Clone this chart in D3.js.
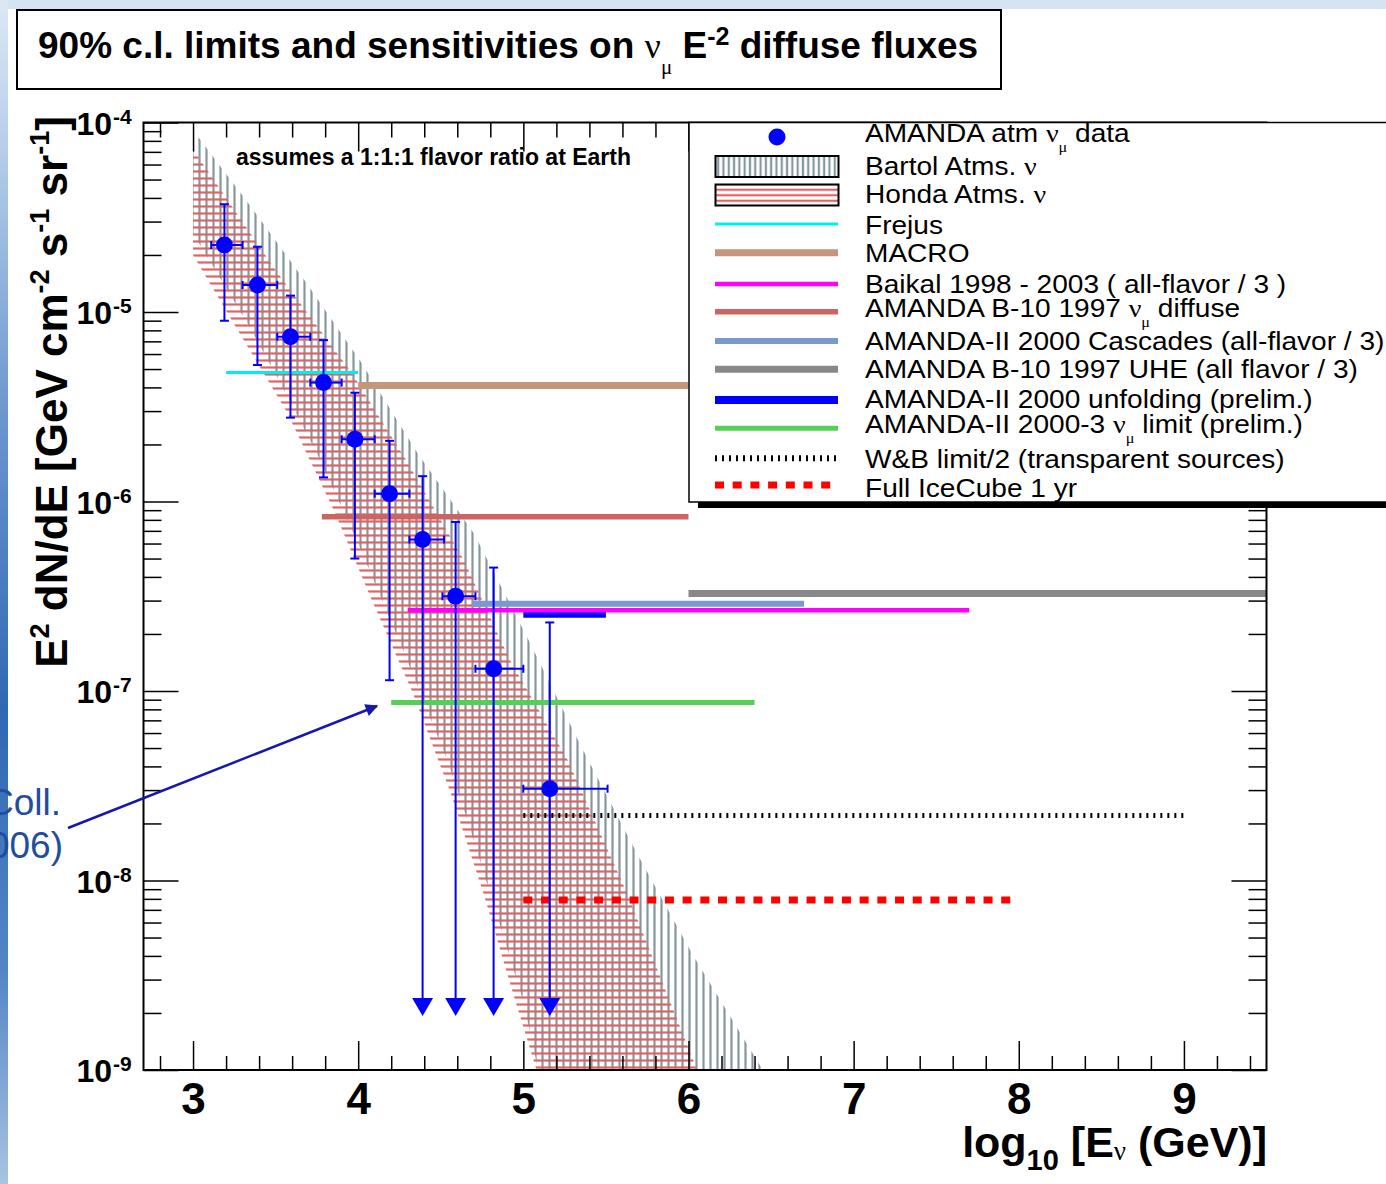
<!DOCTYPE html>
<html>
<head>
<meta charset="utf-8">
<script src="https://cdn.jsdelivr.net/npm/d3@7"></script>
<style>
  html, body { margin: 0; padding: 0; background: #fff; }
  svg { display: block; font-family: "Liberation Sans", Arial, sans-serif; }
  text { white-space: pre; }
</style>
</head>
<body>
<svg id="chart" width="1386" height="1184"></svg>
<script>
// ---- data ----
// AMANDA atmospheric nu_mu unfolded points (log10 E, E^2 dN/dE)
const pointE      = [3.19, 3.39, 3.59, 3.79, 3.98, 4.19, 4.39, 4.59, 4.82, 5.16];
const pointElo    = [3.11, 3.30, 3.51, 3.71, 3.90, 4.10, 4.31, 4.51, 4.71, 5.00];
const pointEhi    = [3.30, 3.51, 3.71, 3.90, 4.10, 4.31, 4.52, 4.71, 5.00, 5.51];
const pointFlux   = [2.26e-5, 1.39e-5, 7.4e-6, 4.24e-6, 2.13e-6, 1.10e-6, 6.3e-7, 3.16e-7, 1.31e-7, 3.05e-8];
const pointFluxHi = [3.7e-5, 2.21e-5, 1.22e-5, 7.1e-6, 3.75e-6, 2.09e-6, 1.36e-6, 7.8e-7, 4.48e-7, 2.3e-7];
const pointFluxLo = [9.0e-6, 5.25e-6, 2.77e-6, 1.34e-6, 5.0e-7, 1.14e-7, null, null, null, null];
const arrowFlux = 1.93e-9; // upper-limit arrows end here

// Bartol atmospheric band edges
const bartolUpE    = [3.0, 3.33, 3.68, 4.02, 4.36, 4.7, 5.04, 5.35, 5.69, 6.03, 6.45];
const bartolUpFlux = [9.1e-5, 3.8e-5, 1.45e-5, 5.4e-6, 1.8e-6, 6.8e-7, 1.8e-7, 5.1e-8, 1.38e-8, 4.0e-9, 1.0e-9];
const bartolLoE    = [3.0, 3.33, 3.5, 3.75, 4.0, 4.27, 4.54, 4.66, 4.87, 5.0, 5.09];
const bartolLoFlux = [2.6e-5, 8.7e-6, 4.7e-6, 1.8e-6, 6.0e-7, 1.66e-7, 4.3e-8, 2.1e-8, 5.4e-9, 2.3e-9, 1.0e-9];

// Honda atmospheric band edges
const hondaUpE    = [3.0, 3.5, 3.96, 4.3, 4.64, 4.92, 5.27, 5.63, 6.03, 6.05];
const hondaUpFlux = [7.2e-5, 1.66e-5, 4.8e-6, 1.6e-6, 4.9e-7, 1.45e-7, 4.3e-8, 8.5e-9, 1.12e-9, 1.0e-9];
const hondaLoE    = [3.0, 3.26, 3.57, 3.86, 4.07, 4.33, 4.56, 4.76, 4.94, 5.08];
const hondaLoFlux = [2.0e-5, 8.3e-6, 2.95e-6, 8.7e-7, 3.2e-7, 9.8e-8, 2.9e-8, 8.5e-9, 2.5e-9, 1.0e-9];

// horizontal limits / sensitivities
const limitKeys = ["frejus", "macro", "b10diffuse", "cascades", "uhe", "unfolding", "baikal", "amanda2000_3", "wb", "icecube"];
const limitEmin = [3.2, 4.0, 3.78, 4.69, 6.0, 5.0, 4.3, 4.2, 5.0, 5.0];
const limitEmax = [4.0, 6.0, 6.0, 6.7, 9.5, 5.5, 7.7, 6.4, 9.0, 8.0];
const limitFlux = [4.8e-6, 4.1e-6, 8.3e-7, 2.89e-7, 3.27e-7, 2.56e-7, 2.67e-7, 8.7e-8, 2.2e-8, 7.9e-9];

// legend entries
const legendKeys = ["data", "bartol", "honda", "frejus", "macro", "baikal", "b10diffuse", "cascades", "uhe", "unfolding", "amanda2000_3", "wb", "icecube"];
const legendLabels = [
  "AMANDA atm #nu_{#mu} data",
  "Bartol Atms. #nu",
  "Honda Atms. #nu",
  "Frejus",
  "MACRO",
  "Baikal 1998 - 2003 ( all-flavor / 3 )",
  "AMANDA B-10 1997 #nu_{#mu} diffuse",
  "AMANDA-II 2000 Cascades (all-flavor / 3)",
  "AMANDA B-10 1997 UHE (all flavor / 3)",
  "AMANDA-II 2000 unfolding (prelim.)",
  "AMANDA-II 2000-3 #nu_{#mu} limit (prelim.)",
  "W&B limit/2 (transparent sources)",
  "Full IceCube 1 yr"
];

const xMajorTicks = [3, 4, 5, 6, 7, 8, 9];
const xMinorTicks = d3.range(28, 95, 2).map(v => v / 10).filter(v => v % 1 !== 0);
const yMajorExp = [-9, -8, -7, -6, -5, -4];

// ---- styles ----
const lineStyle = {
  frejus:       { color: "#00eeee", width: 3 },
  macro:        { color: "#c4967c", width: 7 },
  baikal:       { color: "#ff00ff", width: 4.5 },
  b10diffuse:   { color: "#cc6464", width: 5.5 },
  cascades:     { color: "#7b99cf", width: 6 },
  uhe:          { color: "#888888", width: 7 },
  unfolding:    { color: "#0000ff", width: 8 },
  amanda2000_3: { color: "#55d055", width: 5 },
  wb:           { color: "#000000", width: 5, dash: "2,5" },
  icecube:      { color: "#ff0000", width: 7, dash: "9,8.7" }
};
const GRAY = "#84979e", RED = "#e06262", BLUE = "#0000ff";
const GREEK = "'Liberation Serif', 'DejaVu Serif', serif";

const svg = d3.select("#chart");
const defs = svg.append("defs");

// ---- scales ----
const x = d3.scaleLinear().domain([2.7, 9.5]).range([143.5, 1266.5]);
const y = d3.scaleLog().domain([1e-9, 1e-4]).range([1070, 122.5]);

function makeHatch(id, vertical, step, color) {
    const p = defs.append("pattern")
        .attr("id", id)
        .attr("patternUnits", "userSpaceOnUse")
        .attr("width", step).attr("height", step);
    const h = step / 2;
    p.append("line")
        .attr("x1", vertical ? h : 0).attr("x2", vertical ? h : step)
        .attr("y1", vertical ? 0 : h).attr("y2", vertical ? step : h)
        .attr("stroke", color).attr("stroke-width", 2.2);
}
makeHatch("bartolHatch", true, 7, GRAY);
makeHatch("hondaHatch", false, 7, RED);
makeHatch("bartolHatchLeg", true, 5.3, GRAY);
makeHatch("hondaHatchLeg", false, 5.5, RED);

defs.append("clipPath").attr("id", "plotClip")
    .append("rect")
    .attr("x", x(2.7)).attr("y", y(1e-4))
    .attr("width", x(9.5) - x(2.7)).attr("height", y(1e-9) - y(1e-4));

const grad = defs.append("linearGradient").attr("id", "sideGrad")
    .attr("x1", 0).attr("x2", 0).attr("y1", 0).attr("y2", 1);
[[0, "#dce8f5"], [0.12, "#b7cfea"], [0.35, "#6b97ce"], [0.6, "#2f68b4"], [0.82, "#5386c5"], [1, "#a9c3e2"]]
    .forEach(([o, c]) => grad.append("stop").attr("offset", o).attr("stop-color", c));

defs.append("marker").attr("id", "arrowHead")
    .attr("viewBox", "0 0 10 10").attr("refX", 9).attr("refY", 5)
    .attr("markerWidth", 6).attr("markerHeight", 5)
    .attr("markerUnits", "strokeWidth").attr("orient", "auto")
    .append("path").attr("d", "M0,0 L10,5 L0,10 Z").attr("fill", "#1616b0");

// rich text helper: understands #nu, _{..}, ^{..}
function rich(sel, str, o) {
    const parts = str.split(/(_\{[^}]*\}|\^\{[^}]*\}|#nu)/).filter(p => p);
    let cur = 0;
    parts.forEach(p => {
        let txt = p, size = o.size, shift = 0, greek = false;
        if (p[0] === "_" || p[0] === "^") {
            txt = p.slice(2, -1);
            size = p[0] === "_" ? o.small : (o.supSize || o.small);
            shift = p[0] === "_" ? o.subDy : -o.supDy;
        }
        if (txt.includes("#")) {
            txt = txt.replace("#nu", "ν").replace("#mu", "μ");
            greek = true;
            if (p === "#nu" && o.greekSize) size = o.greekSize;
        }
        const ts = sel.append("tspan").attr("font-size", size).attr("dy", shift - cur).text(txt);
        if (greek) ts.attr("font-family", GREEK).attr("font-weight", "normal");
        cur = shift;
    });
}

// ---- slide background bits ----
svg.append("rect").attr("x", 0).attr("y", 0).attr("width", 1386).attr("height", 9).attr("fill", "#d5e4f3");
svg.append("rect").attr("x", 0).attr("y", 0).attr("width", 8).attr("height", 1184).attr("fill", "url(#sideGrad)");

// ---- title box ----
svg.append("rect")
    .attr("x", 17).attr("y", 10).attr("width", 984).attr("height", 79)
    .attr("fill", "#fff").attr("stroke", "#000").attr("stroke-width", 2);
rich(svg.append("text").attr("x", 38).attr("y", 58).attr("font-weight", "bold"),
    "90% c.l. limits and sensitivities on #nu_{#mu} E^{-2} diffuse fluxes",
    { size: 37, small: 21, supSize: 25, subDy: 16, supDy: 13, greekSize: 36 });

// ---- plot contents ----
const plot = svg.append("g").attr("clip-path", "url(#plotClip)");
const edge = d3.line().x(d => x(d[0])).y(d => y(d[1]));

function band(upE, upF, loE, loF, fill) {
    const pts = upE.map((e, i) => [e, upF[i]])
        .concat(loE.map((e, i) => [e, loF[i]]).reverse());
    plot.append("path").attr("d", edge(pts) + "Z").attr("fill", fill).attr("stroke", "none");
}
band(bartolUpE, bartolUpFlux, bartolLoE, bartolLoFlux, "url(#bartolHatch)");
band(hondaUpE, hondaUpFlux, hondaLoE, hondaLoFlux, "url(#hondaHatch)");

limitKeys.forEach((k, i) => {
    const s = lineStyle[k];
    plot.append("line")
        .attr("x1", x(limitEmin[i])).attr("x2", x(limitEmax[i]))
        .attr("y1", y(limitFlux[i])).attr("y2", y(limitFlux[i]))
        .attr("stroke", s.color).attr("stroke-width", s.width)
        .attr("stroke-dasharray", s.dash || null);
});

const pts = plot.append("g").attr("stroke", BLUE).attr("stroke-width", 2).attr("fill", BLUE);
pointE.forEach((e, i) => {
    const cx = x(e), cy = y(pointFlux[i]);
    const yTop = y(pointFluxHi[i]);
    const isLimit = pointFluxLo[i] === null;
    const yBot = isLimit ? y(arrowFlux) : y(pointFluxLo[i]);
    pts.append("line").attr("x1", cx).attr("x2", cx).attr("y1", yTop).attr("y2", isLimit ? yBot - 10 : yBot);
    pts.append("line").attr("x1", cx - 4.5).attr("x2", cx + 4.5).attr("y1", yTop).attr("y2", yTop);
    if (!isLimit) {
        pts.append("line").attr("x1", cx - 4.5).attr("x2", cx + 4.5).attr("y1", yBot).attr("y2", yBot);
    }
    const xl = x(pointElo[i]), xr = x(pointEhi[i]);
    pts.append("line").attr("x1", xl).attr("x2", xr).attr("y1", cy).attr("y2", cy);
    [xl, xr].forEach(xe => pts.append("line").attr("x1", xe).attr("x2", xe).attr("y1", cy - 4).attr("y2", cy + 4));
    pts.append("circle").attr("cx", cx).attr("cy", cy).attr("r", 8.5).attr("stroke", "none");
    if (isLimit) {
        pts.append("path")
            .attr("d", `M${cx - 10.5},${yBot - 18} L${cx + 10.5},${yBot - 18} L${cx},${yBot} Z`)
            .attr("stroke", "none");
    }
});

// ---- axes (ticks only, frame drawn separately) ----
const yMajorTicks = yMajorExp.map(k => Math.pow(10, k));
const yMinorTicks = [];
yMajorExp.slice(0, -1).forEach(k => d3.range(2, 10).forEach(m => yMinorTicks.push(m * Math.pow(10, k))));

function ticksOnly(g) {
    g.select(".domain").remove();
    g.selectAll(".tick text").remove();
    g.selectAll(".tick line").attr("stroke", "#000").attr("stroke-width", 1.5);
}
const axes = svg.append("g");
axes.append("g").attr("transform", `translate(0,${y(1e-9)})`)
    .call(d3.axisBottom(x).tickValues(xMinorTicks).tickSize(-14)).call(ticksOnly);
axes.append("g").attr("transform", `translate(0,${y(1e-4)})`)
    .call(d3.axisTop(x).tickValues(xMinorTicks).tickSize(-15)).call(ticksOnly);
axes.append("g").attr("transform", `translate(0,${y(1e-4)})`)
    .call(d3.axisTop(x).tickValues(xMajorTicks).tickSize(-29)).call(ticksOnly);
axes.append("g").attr("transform", `translate(${x(2.7)},0)`)
    .call(d3.axisLeft(y).tickValues(yMinorTicks).tickSize(-18)).call(ticksOnly);
axes.append("g").attr("transform", `translate(${x(2.7)},0)`)
    .call(d3.axisLeft(y).tickValues(yMajorTicks).tickSize(-35)).call(ticksOnly);
axes.append("g").attr("transform", `translate(${x(9.5)},0)`)
    .call(d3.axisLeft(y).tickValues(yMinorTicks).tickSize(18)).call(ticksOnly);
axes.append("g").attr("transform", `translate(${x(9.5)},0)`)
    .call(d3.axisLeft(y).tickValues(yMajorTicks).tickSize(35)).call(ticksOnly);

// bottom major ticks with labels
const xLab = axes.append("g").attr("transform", `translate(0,${y(1e-9)})`)
    .call(d3.axisBottom(x).tickValues(xMajorTicks).tickSize(-29).tickPadding(13).tickFormat(d3.format("d")));
xLab.select(".domain").remove();
xLab.selectAll(".tick line").attr("stroke", "#000").attr("stroke-width", 1.5);
xLab.attr("font-family", null).attr("font-size", null);
xLab.selectAll(".tick text").attr("fill", "#000").attr("font-size", 44).attr("font-weight", "bold");

svg.append("rect")
    .attr("x", x(2.7)).attr("y", y(1e-4))
    .attr("width", x(9.5) - x(2.7)).attr("height", y(1e-9) - y(1e-4))
    .attr("fill", "none").attr("stroke", "#000").attr("stroke-width", 2);

// y tick labels 10^k
yMajorExp.forEach(k => {
    const ty = y(Math.pow(10, k));
    svg.append("text").attr("x", 112).attr("y", ty + 12).attr("text-anchor", "end")
        .attr("font-size", 32).attr("font-weight", "bold").text("10");
    svg.append("text").attr("x", 113).attr("y", ty + 1)
        .attr("font-size", 21).attr("font-weight", "bold").text(String(k));
});

// axis titles
rich(svg.append("text").attr("transform", "translate(67,392) rotate(-90)")
        .attr("text-anchor", "middle").attr("font-weight", "bold"),
    "E^{2} dN/dE [GeV cm^{-2} s^{-1} sr^{-1}]",
    { size: 44, small: 27, subDy: 0, supDy: 18 });

const xt = svg.append("text").attr("x", 1267).attr("y", 1157)
    .attr("text-anchor", "end").attr("font-weight", "bold");
xt.append("tspan").attr("font-size", 43).text("log");
xt.append("tspan").attr("font-size", 29).attr("dy", 13).text("10");
xt.append("tspan").attr("font-size", 43).attr("dy", -13).text(" [E");
xt.append("tspan").attr("font-size", 27).attr("dy", 3)
    .attr("font-family", GREEK).attr("font-weight", "normal").text("ν");
xt.append("tspan").attr("font-size", 43).attr("dy", -3).text(" (GeV)]");

svg.append("text").attr("x", 236).attr("y", 165)
    .attr("font-size", 23).attr("font-weight", "bold")
    .text("assumes a 1:1:1 flavor ratio at Earth");

// ---- legend ----
const legSymY  = [137, 166.5, 195, 224, 252.7, 284, 311.7, 341, 369.3, 400, 428.3, 458.3, 485];
const legTextY = [142, 175, 203, 234, 262, 293, 317, 350, 378, 408, 433, 468, 497];
const leg = svg.append("g");
leg.append("rect").attr("x", 698).attr("y", 502).attr("width", 700).attr("height", 6).attr("fill", "#000");
leg.append("rect").attr("x", 689).attr("y", 122.5).attr("width", 800).attr("height", 379.5)
    .attr("fill", "#fff").attr("stroke", "#000").attr("stroke-width", 1.5);

legendKeys.forEach((k, i) => {
    const sy = legSymY[i];
    if (k === "data") {
        leg.append("ellipse").attr("cx", 777).attr("cy", sy).attr("rx", 8.5).attr("ry", 8.5).attr("fill", BLUE);
    } else if (k === "bartol" || k === "honda") {
        leg.append("rect").attr("x", 715.5).attr("y", sy - 10.5).attr("width", 123).attr("height", 21)
            .attr("fill", k === "bartol" ? "url(#bartolHatchLeg)" : "url(#hondaHatchLeg)")
            .attr("stroke", "#000").attr("stroke-width", 2);
    } else {
        const s = lineStyle[k];
        leg.append("line").attr("x1", 715).attr("x2", 838).attr("y1", sy).attr("y2", sy)
            .attr("stroke", s.color).attr("stroke-width", k === "wb" ? 6 : s.width)
            .attr("stroke-dasharray", s.dash || null);
    }
    const t = leg.append("g").attr("transform", `translate(865,${legTextY[i]}) scale(1.08,1)`)
        .append("text").attr("x", 0).attr("y", 0).attr("fill", "#000");
    rich(t, legendLabels[i], { size: 26, small: 15, subDy: 10, supDy: 10 });
});

// ---- slide annotation cut off on the left ----
svg.append("text").attr("x", 61).attr("y", 815).attr("text-anchor", "end")
    .attr("font-size", 37).attr("fill", "#1f4e9e").text("Coll.");
svg.append("text").attr("x", 63).attr("y", 858).attr("text-anchor", "end")
    .attr("font-size", 37).attr("fill", "#1f4e9e").text("006)");
svg.append("line").attr("x1", 68).attr("y1", 828).attr("x2", 377).attr("y2", 706)
    .attr("stroke", "#1616b0").attr("stroke-width", 2.5).attr("marker-end", "url(#arrowHead)");
</script>
</body>
</html>
